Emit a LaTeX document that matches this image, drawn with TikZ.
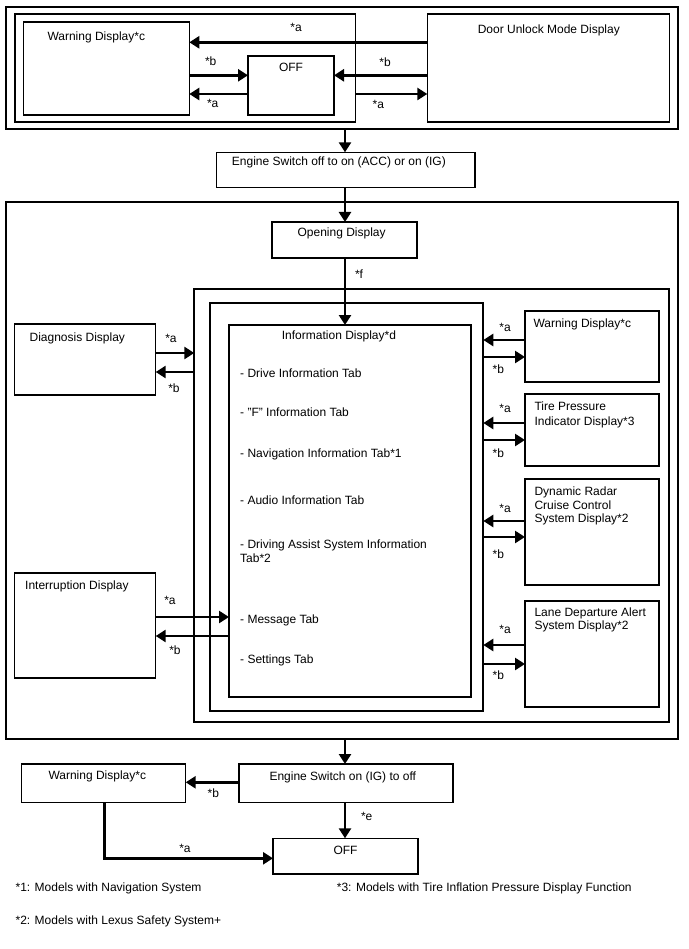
\documentclass[tikz,border=0pt]{standalone}
\usepackage{fontspec}
\setmainfont{Liberation Sans}
\usetikzlibrary{arrows.meta}
\tikzset{
  box/.style={draw, line width=1.5pt, anchor=north west, inner sep=0pt, outer sep=0pt},
  frame/.style={box, line width=2pt},
  txt/.style={anchor=mid west, inner sep=0pt, yshift=-1.5pt, font=\fontsize{12}{14}\selectfont},
  lbl/.style={anchor=center, inner sep=0pt, yshift=-1pt, font=\fontsize{12}{14}\selectfont},
  arr/.style={line width=2.5pt, -{Triangle[length=10pt,width=12pt]}},
}
\newcommand\bx[6][box]{\node[#1, minimum width={(#5-#3)*1pt}, minimum height={(#6-#4)*1pt}] (#2) at (#3,#4) {};}
\begin{document}
\begin{tikzpicture}[x=1pt,y=-1pt]
\useasboundingbox (0,0) rectangle (688,949);
% ---------- top group ----------
\bx[frame]{outer}{5.7}{7.3}{677.7}{129.3}
\bx{inl}{15}{14}{355.7}{122}
\bx{warn}{23.3}{22}{189.3}{115}
\bx{off}{248}{56}{334}{115}
\bx{door}{427.3}{14}{669.3}{122}
\node[txt] (twarn) at (47.3,36) {Warning Display*c};
\node[lbl] (toff) at (291,66.7) {OFF};
\node[lbl] (tdoor) at (548.8,29.3) {Door Unlock Mode Display};
\draw[arr] (door.west |- 0,42.3) -- (warn.east |- 0,42.3);
\node[lbl] (l1) at (296,26.7) {*a};
\draw[arr] (warn.east |- 0,75.3) -- (off.west |- 0,75.3);
\node[lbl] (l2) at (210.7,60.7) {*b};
\draw[arr] (off.west |- 0,94) -- (warn.east |- 0,94);
\node[lbl] (l3) at (212.7,102.7) {*a};
\draw[arr] (door.west |- 0,75.3) -- (off.east |- 0,75.3);
\node[lbl] (l4) at (385,61) {*b};
\draw[arr] (inl.east |- 0,94) -- (door.west |- 0,94);
\node[lbl] (l5) at (378.3,103.3) {*a};
% ---------- engine switch 1 ----------
\bx{eng}{216.7}{152.3}{475}{187.3}
\node[txt] (teng) at (231.7,161) {Engine Switch off to on (ACC) or on (IG)};
\draw[arr] (345,0 |- outer.south) -- (345,0 |- eng.north);
% ---------- big group ----------
\bx[frame]{big}{5.7}{202.3}{677.7}{739}
\bx{open}{272}{222}{417}{258}
\node[txt] (topen) at (297.4,232) {Opening Display};
\draw[arr] (345,0 |- eng.south) -- (345,0 |- open.north);
\bx[frame]{grpa}{194.3}{289}{669}{722}
\bx[frame]{grpb}{209.6}{303}{483.3}{711}
\bx{info}{229}{325}{471}{697}
\draw[arr] (345,0 |- open.south) -- (345,0 |- info.north);
\node[lbl] (lf) at (359,273) {*f};
\node[txt] (tinfo) at (281.7,335) {Information Display*d};
\node[txt] (i1) at (240,373) {- Drive Information Tab};
\node[txt] (i2) at (240,412) {- "F" Information Tab};
\node[txt] (i3) at (240,453) {- Navigation Information Tab*1};
\node[txt] (i4) at (240,500) {- Audio Information Tab};
\node[txt] (i5) at (240,544) {- Driving Assist System Information};
\node[txt] (i5b) at (240,558) {Tab*2};
\node[txt] (i6) at (240,619) {- Message Tab};
\node[txt] (i7) at (240,659) {- Settings Tab};
% diagnosis
\bx{diag}{14.5}{324}{155.7}{395}
\node[txt] (tdiag) at (29.4,337) {Diagnosis Display};
\draw[arr] (diag.east |- 0,353) -- (grpa.west |- 0,353);
\node[lbl] (ld1) at (171,337) {*a};
\draw[arr] (grpa.west |- 0,372) -- (diag.east |- 0,372);
\node[lbl] (ld2) at (174,387) {*b};
% interruption
\bx{intr}{14.5}{573}{155.7}{678}
\node[txt] (tintr) at (25,585) {Interruption Display};
\draw[arr] (intr.east |- 0,617) -- (info.west |- 0,617);
\node[lbl] (li1) at (170,599) {*a};
\draw[arr] (info.west |- 0,636) -- (intr.east |- 0,636);
\node[lbl] (li2) at (175,649) {*b};
% right column
\bx{warnr}{525}{311}{659}{382}
\node[txt] (twr) at (533.3,323) {Warning Display*c};
\draw[arr] (warnr.west |- 0,340) -- (grpb.east |- 0,340);
\draw[arr] (grpb.east |- 0,357) -- (warnr.west |- 0,357);
\node[lbl] (lr1) at (505,326) {*a};
\node[lbl] (lr2) at (498.3,368.3) {*b};
\bx{tire}{525}{394}{659}{466}
\node[txt] (tt1) at (534.3,406) {Tire Pressure};
\node[txt] (tt2) at (534.3,421) {Indicator Display*3};
\draw[arr] (tire.west |- 0,423) -- (grpb.east |- 0,423);
\draw[arr] (grpb.east |- 0,440) -- (tire.west |- 0,440);
\node[lbl] (lr3) at (505,407) {*a};
\node[lbl] (lr4) at (498.3,452) {*b};
\bx{dyn}{525}{479}{659}{585}
\node[txt] (td1) at (534.3,491) {Dynamic Radar};
\node[txt] (td2) at (534.3,505) {Cruise Control};
\node[txt] (td3) at (534.3,518) {System Display*2};
\draw[arr] (dyn.west |- 0,521) -- (grpb.east |- 0,521);
\draw[arr] (grpb.east |- 0,537) -- (dyn.west |- 0,537);
\node[lbl] (lr5) at (505,507) {*a};
\node[lbl] (lr6) at (498.3,553) {*b};
\bx{lane}{525}{601}{659}{707}
\node[txt] (tl1) at (534.3,612) {Lane Departure Alert};
\node[txt] (tl2) at (534.3,625) {System Display*2};
\draw[arr] (lane.west |- 0,645) -- (grpb.east |- 0,645);
\draw[arr] (grpb.east |- 0,664) -- (lane.west |- 0,664);
\node[lbl] (lr7) at (505,628) {*a};
\node[lbl] (lr8) at (498.3,674) {*b};
% ---------- bottom ----------
\bx{eng2}{239}{764}{453}{802.3}
\node[txt] (teng2) at (269.3,776.7) {Engine Switch on (IG) to off};
\draw[arr] (345,0 |- big.south) -- (345,0 |- eng2.north);
\bx{warnb}{21.7}{764}{185.7}{802.3}
\node[txt] (twb) at (48.3,775.7) {Warning Display*c};
\draw[arr] (eng2.west |- 0,782.3) -- (warnb.east |- 0,782.3);
\node[lbl] (lb1) at (213.3,792.7) {*b};
\bx{offb}{273}{838.3}{418}{874}
\node[lbl] (toffb) at (345.5,849) {OFF};
\draw[arr] (345,0 |- eng2.south) -- (345,0 |- offb.north);
\node[lbl] (lb2) at (366.7,815.7) {*e};
\draw[arr] (104.3,0 |- warnb.south) |- (offb.west |- 0,858.3);
\node[lbl] (lb3) at (185,847.7) {*a};
% footnotes
\node[txt] (f1) at (15.4,887) {*1: Models with Navigation System};
\node[txt] (f3) at (336.7,887.7) {*3: Models with Tire Inflation Pressure Display Function};
\node[txt] (f2) at (15.4,920) {*2: Models with Lexus Safety System+};
\end{tikzpicture}
\end{document}
